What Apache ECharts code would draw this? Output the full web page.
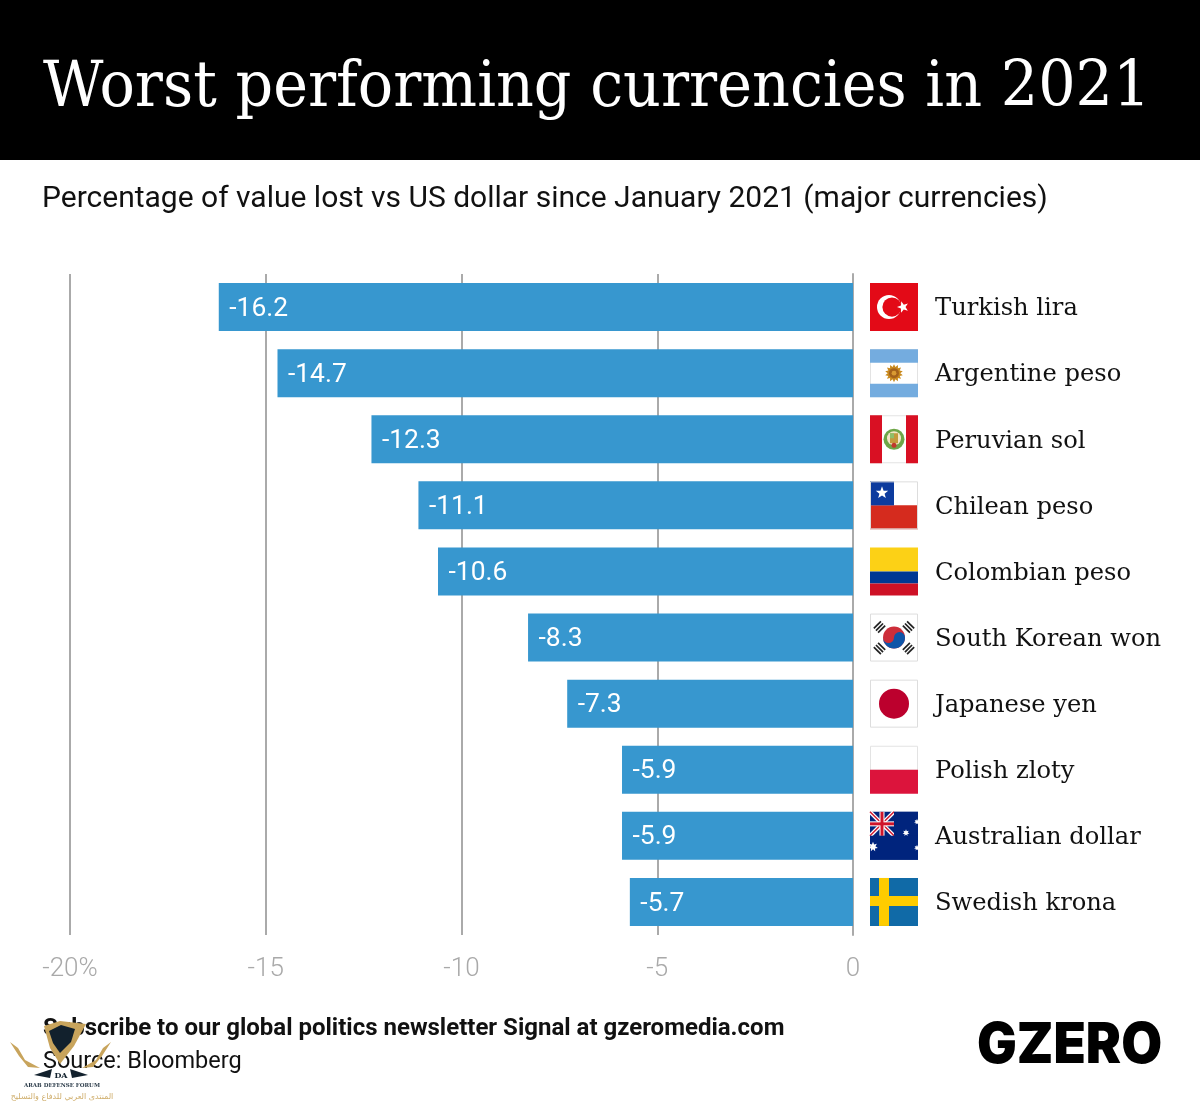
<!DOCTYPE html>
<html><head><meta charset="utf-8">
<style>html,body{margin:0;padding:0;background:#fff}#c{width:1200px;height:1106px}</style>
<script src="https://cdn.jsdelivr.net/npm/echarts@6/dist/echarts.min.js"></script></head>
<body><div id="c"></div>
<script>
const currencies = ['Turkish lira','Argentine peso','Peruvian sol','Chilean peso','Colombian peso','South Korean won','Japanese yen','Polish zloty','Australian dollar','Swedish krona'];
const values = [-16.2,-14.7,-12.3,-11.1,-10.6,-8.3,-7.3,-5.9,-5.9,-5.7];
const flagCodes = ['tr','ar','pe','cl','co','kr','jp','pl','au','se'];
const tickValues = [-20,-15,-10,-5,0];
const titleText = 'Worst performing currencies in 2021';
const subtitleText = 'Percentage of value lost vs US dollar since January 2021 (major currencies)';
const footerBold = 'Subscribe to our global politics newsletter Signal at gzeromedia.com';
const footerSource = 'Source: Bloomberg';

const R=(x,y,w,h,f,s)=>({type:'rect',shape:{x,y,width:w,height:h},style:{fill:f,stroke:s||null,lineWidth:s?1:0}});
const C=(cx,cy,r,f)=>({type:'circle',shape:{cx,cy,r},style:{fill:f}});
const L=(a,b,c,d,col,w)=>({type:'line',shape:{x1:a,y1:b,x2:c,y2:d},style:{stroke:col,lineWidth:w}});
const star=(cx,cy,r,f,rot=0,n=5,inner=0.42)=>{const p=[];for(let i=0;i<n*2;i++){const a=-Math.PI/2+rot+i*Math.PI/n,q=i%2?r*inner:r;p.push([cx+q*Math.cos(a),cy+q*Math.sin(a)]);}return {type:'polygon',shape:{points:p},style:{fill:f}};};
const trigram=(cx,cy,ang,col)=>{const o=[];const dx=Math.cos(ang),dy=Math.sin(ang),nx=-dy,ny=dx;for(const t of [-3,0,3]){o.push(L(cx+dx*t-nx*5,cy+dy*t-ny*5,cx+dx*t+nx*5,cy+dy*t+ny*5,col,1.7));}return o;};
const flags={
 tr:()=>[R(0,0,48,48,'#e30a17'),C(19,24,12,'#fff'),C(22,24,9.6,'#e30a17'),star(33,24,6,'#fff',-0.3)],
 ar:()=>[R(0.5,0.5,47,47,'#fff','#e3e3e3'),R(0,0,48,13.5,'#74acdf'),R(0,34.5,48,13.5,'#74acdf'),star(24,24,9,'#c98a1e',0,14,0.7),C(24,24,5,'#a4621b'),C(24,24,2.4,'#d99a32')],
 pe:()=>[R(0.5,0.5,47,47,'#fff','#e3e3e3'),R(0,0,12,48,'#d91023'),R(36,0,12,48,'#d91023'),C(24,24,10.5,'#6ea648'),C(24,23,7,'#f3e6c6'),R(20,18,8,10,'#c39a3c'),R(20,18,4,5,'#8fbf6a'),C(24,30,2.5,'#c0392b')],
 cl:()=>[R(0,0,48,24,'#fff'),R(0,24,48,24,'#d52b1e'),R(0,0,24,24,'#0d3b9e'),star(12,11.5,6.5,'#fff'),R(0.5,0.5,47,47,'none','#ddd')],
 co:()=>[R(0,0,48,24,'#fcd116'),R(0,24,48,12,'#003893'),R(0,36,48,12,'#ce1126')],
 kr:()=>[R(0.5,0.5,47,47,'#fff','#ddd'),
   ...trigram(9.5,13.5,Math.PI/4,'#222'),...trigram(38.5,13.5,-Math.PI/4,'#222'),...trigram(9.5,35,-Math.PI/4,'#222'),...trigram(38.5,35,Math.PI/4,'#222'),
   C(24,24,11,'#cd2e3a'),{type:'path',shape:{pathData:'M13 24 A11 11 0 0 0 35 24 A5.5 5.5 0 0 0 24 24 A5.5 5.5 0 0 1 13 24 Z'},style:{fill:'#0f55a8'}}],
 jp:()=>[R(0.5,0.5,47,47,'#fff','#ddd'),C(24,24,15,'#bc002d')],
 pl:()=>[R(0.5,0.5,47,24,'#fff','#e3e3e3'),R(0,24,48,24,'#dc143c')],
 au:()=>[R(0,0,48,48,'#00247d'),L(0,0,24,24,'#fff',4),L(24,0,0,24,'#fff',4),L(0,0,24,24,'#cf142b',1.4),L(24,0,0,24,'#cf142b',1.4),R(9.5,0,5,24,'#fff'),R(0,9.5,24,5,'#fff'),R(10.5,0,3,24,'#cf142b'),R(0,10.5,24,3,'#cf142b'),R(24,0,24,24,'#00247d'),R(0,24,48,24,'#00247d'),
   star(36,21,3.5,'#fff',0,7,0.5),star(47,10,3,'#fff',0,7,0.5),star(47,36,3,'#fff',0,7,0.5),star(3,35,5,'#fff',0,7,0.5)],
 se:()=>[R(0,0,48,48,'#106aa7'),R(0,18,48,10,'#fecc00'),R(9,0,10,48,'#fecc00')]
};

const chart=echarts.init(document.getElementById('c'),null,{renderer:'canvas'});
chart.setOption({
 animation:false,backgroundColor:'#fff',
 grid:{left:70,right:347,top:274,bottom:171,containLabel:false},
 xAxis:{type:'value',min:-20,max:0,interval:5,position:'bottom',
  axisLine:{show:false},axisTick:{show:false},
  splitLine:{show:true,lineStyle:{color:'#aaaaaa',width:2}},
  axisLabel:{margin:21,color:'#a9a9a9',fontFamily:'Roboto',fontWeight:300,fontSize:26,
    formatter:v=>tickValues[0]===v?v+'%':String(v)}},
 yAxis:{type:'category',inverse:true,data:currencies,position:'right',
  axisLine:{show:true,lineStyle:{color:'#aaaaaa',width:2}},axisTick:{show:false},
  axisLabel:{margin:82,color:'#111',fontFamily:'DejaVu Serif',fontSize:24.2,align:'left',verticalAlign:'top',lineHeight:4}},
 series:[
  {type:'bar',data:values,barWidth:48,itemStyle:{color:'#3797cf'},z:2,
   label:{show:true,position:'insideLeft',distance:10.5,offset:[0,2],color:'#fff',fontFamily:'Roboto',fontSize:26.4,formatter:p=>p.value.toFixed(1)}},
  {type:'custom',clip:false,z:5,data:currencies.map((_,i)=>[0,i]),encode:{x:0,y:1},silent:true,
   renderItem:(params,api)=>{const p=api.coord([api.value(0),api.value(1)]);
    return {type:'group',x:p[0]+17,y:p[1]-24,children:flags[flagCodes[params.dataIndex]]()};}}
 ],
 graphic:[
  {type:'rect',z:0,shape:{x:0,y:0,width:1200,height:160},style:{fill:'#000'}},
  {type:'text',x:43,y:89,scaleX:0.919,style:{text:titleText,fill:'#fff',font:'400 64px "DejaVu Serif"',textVerticalAlign:'middle'}},
  {type:'text',x:42,y:199,style:{text:subtitleText,fill:'#111',font:'400 30px Roboto',textVerticalAlign:'middle'}},
  {type:'text',x:43,y:1029,style:{text:footerBold,fill:'#111',font:'700 24px Roboto',textVerticalAlign:'middle'}},
  {type:'text',x:43,y:1062,style:{text:footerSource,fill:'#111',font:'400 23.5px Roboto',textVerticalAlign:'middle'}},
  {type:'text',x:977,y:1046,scaleX:0.943,style:{text:'GZERO',fill:'#000',font:'900 56px Inter',textVerticalAlign:'middle'}},
  {type:'polygon',z:20,shape:{points:[[44,1026],[60,1021],[86,1024],[74,1046],[60,1064],[50,1048]]},style:{fill:'#c8a45c'}},
  {type:'polygon',z:21,shape:{points:[[49,1031],[61,1025],[75,1029],[71,1042],[60,1053],[53,1043]]},style:{fill:'#12212d'}},
  {type:'polygon',z:20,shape:{points:[[10,1042],[18,1048],[25,1060],[40,1068],[28,1067],[19,1056]]},style:{fill:'#c8a45c'}},
  {type:'polygon',z:20,shape:{points:[[111,1042],[103,1048],[96,1060],[82,1068],[93,1067],[102,1056]]},style:{fill:'#c8a45c'}},
  {type:'polygon',z:20,shape:{points:[[34,1075],[52,1069],[50,1078]]},style:{fill:'#12212d'}},
  {type:'polygon',z:20,shape:{points:[[88,1075],[70,1069],[72,1078]]},style:{fill:'#12212d'}},
  {type:'text',z:21,x:61,y:1076,style:{text:'DA',fill:'#12212d',font:'700 8px "DejaVu Serif"',textAlign:'center',textVerticalAlign:'middle'}},
  {type:'text',z:21,x:62,y:1086,style:{text:'ARAB DEFENSE FORUM',fill:'#2a3a48',font:'700 5.5px "DejaVu Serif"',textAlign:'center',textVerticalAlign:'middle'}},
  {type:'text',z:21,x:62,y:1097,style:{text:'المنتدى العربي للدفاع والتسليح',fill:'#cfae6c',font:'400 8px "DejaVu Sans"',textAlign:'center',textVerticalAlign:'middle'}}
 ]
});
</script></body></html>
